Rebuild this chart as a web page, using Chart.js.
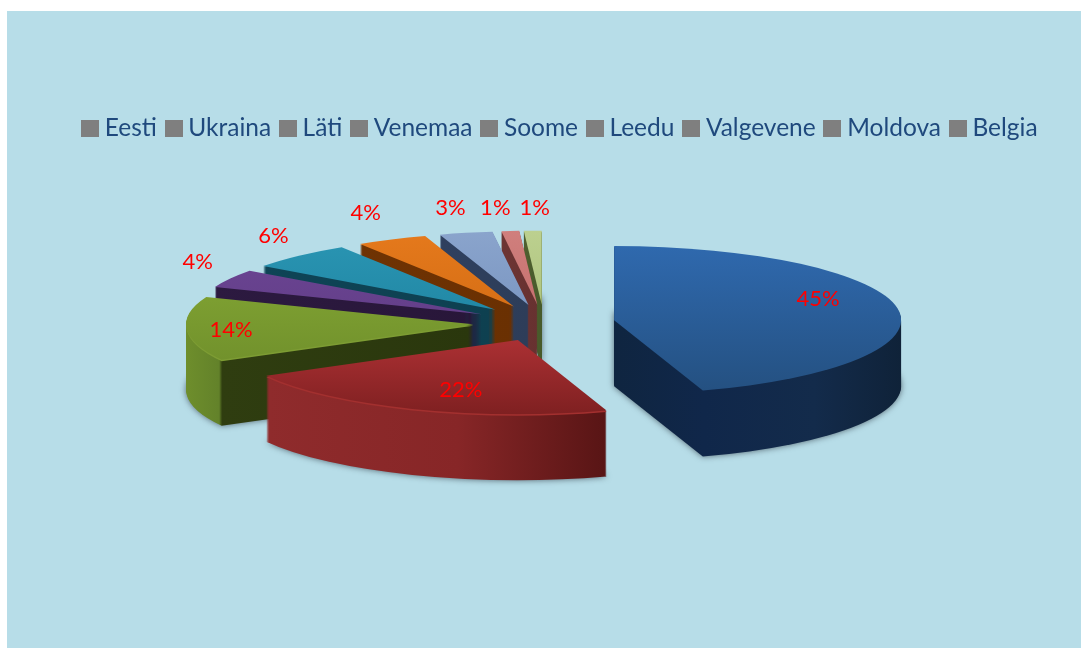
<!DOCTYPE html>
<html>
<head>
<meta charset="utf-8">
<title>Pie</title>
<script src="https://cdn.jsdelivr.net/npm/chart.js@4"></script>
<style>
  html, body { margin: 0; padding: 0; background: #fff; }
  #panel { position: absolute; left: 7px; top: 11px; width: 1074px; height: 637px; background: #b7dde8; }
  #chart { position: absolute; left: 0; top: 0; }
</style>
</head>
<body>
<div id="panel"></div>
<canvas id="chart" width="1081" height="648"></canvas>
<script>
// DATA
const categories = ["Eesti", "Ukraina", "Läti", "Venemaa", "Soome", "Leedu", "Valgevene", "Moldova", "Belgia"];
const shares = [45, 22, 14, 4, 6, 4, 3, 1, 1];
const shareLabels = ["45%", "22%", "14%", "4%", "6%", "4%", "3%", "1%", "1%"];

// STYLES (top face gradient, top to bottom)
const topColors = [
  ["#2f69ae", "#245080"],
  ["#d74045", "#7f2021"],
  ["#85a835", "#6b8a29"],
  ["#6c4594", "#5c3a80"],
  ["#2a95b3", "#1a7d99"],
  ["#e5791c", "#c9660f"],
  ["#8aa4cc", "#6f8cba"],
  ["#d07f7d", "#bd6462"],
  ["#bcd08f", "#a3bb70"]
];
// side faces: [x offset from the slice apex, colour]
const sideStops = [
  [[0, "#0f2540"], [90, "#10274a"], [200, "#132b4b"], [290, "#0f2238"]],
  [[-250, "#8f2b2c"], [-60, "#872627"], [95, "#561414"]],
  [[-290, "#6f8f2c"], [-254, "#63822a"], [-251, "#2f3d10"], [0, "#2a370d"]],
  [[-270, "#2c1a40"], [0, "#281639"]],
  [[-240, "#0e4456"], [0, "#0e4050"]],
  [[-160, "#6f3303"], [0, "#6a3002"]],
  [[-90, "#2f405f"], [0, "#2d3d59"]],
  [[-40, "#6e3534"], [0, "#673130"]],
  [[-20, "#4f6030"], [0, "#475a2a"]]
];
const rimColors = [null, "#a3302f", "#7d9c33", null, null, null, null, null, null];
// back slices first, front slices on top
const drawOrder = [8, 7, 6, 5, 4, 3, 2, 0, 1];
// label centre relative to the slice apex
const labelOffsets = [[204, -21], [-57, 50], [-242, 6], [-284, -52], [-222, -74], [-148, -94], [-78, -97], [-42, -97], [-7, -97]];

const pieX = 544, pieY = 323, squash = 0.258, depth = 66, explode = 71;

function hGrad(ctx, arc, stops) {
  const x0 = stops[0][0], x1 = stops[stops.length - 1][0];
  const g = ctx.createLinearGradient(arc.x + x0, 0, arc.x + x1, 0);
  stops.forEach(s => g.addColorStop((s[0] - x0) / (x1 - x0), s[1]));
  return g;
}

function vGrad(ctx, arc, cols) {
  const g = ctx.createLinearGradient(0, arc.y - 74 / squash, 0, arc.y + 74 / squash);
  g.addColorStop(0, cols[0]);
  g.addColorStop(1, cols[1]);
  return g;
}

// apex of a slice on the page (the pie is exploded here, the element itself stays whole)
function apex(arc) {
  const mid = (arc.startAngle + arc.endAngle) / 2;
  return {
    x: pieX + Math.cos(mid) * explode,
    y: pieY + Math.sin(mid) * explode * squash
  };
}

function paint(ctx, arc, fill, dy) {
  const base = arc.options;
  const a = apex(arc);
  arc.options = Object.create(base, { backgroundColor: { value: fill } });
  ctx.save();
  ctx.translate(a.x, a.y + dy);
  ctx.scale(1, squash);
  ctx.translate(-arc.x, -arc.y);
  arc.draw(ctx);
  ctx.restore();
  arc.options = base;
}

const pie3d = {
  id: "pie3d",
  beforeDatasetsDraw(chart) {
    const ctx = chart.ctx;
    const arcs = chart.getDatasetMeta(0).data;
    drawOrder.forEach(i => {
      const arc = arcs[i];
      const side = hGrad(ctx, arc, sideStops[i]);
      // soft shadow under the deepest layer
      ctx.save();
      ctx.shadowColor = "rgba(40,50,60,0.7)";
      ctx.shadowBlur = 6;
      paint(ctx, arc, side, depth);
      ctx.restore();
      for (let d = depth - 1; d > 0; d--) paint(ctx, arc, side, d);
      if (rimColors[i]) paint(ctx, arc, rimColors[i], 1.5);
      paint(ctx, arc, vGrad(ctx, arc, topColors[i]), 0);
    });
    return false;
  },
  afterDraw(chart) {
    const ctx = chart.ctx;
    const arcs = chart.getDatasetMeta(0).data;
    ctx.save();
    ctx.font = "22px Lato";
    ctx.fillStyle = "#ff0000";
    ctx.textAlign = "center";
    ctx.textBaseline = "middle";
    shareLabels.forEach((t, i) => {
      const a = apex(arcs[i]);
      ctx.fillText(t, a.x + labelOffsets[i][0], a.y + labelOffsets[i][1]);
    });
    ctx.restore();
  }
};

// legend swatch, drawn wider than the legend slot so the text sits close to it
const swatch = document.createElement("canvas");
swatch.width = 18;
swatch.height = 17;
const sctx = swatch.getContext("2d");
sctx.fillStyle = "#7f7f7f";
sctx.fillRect(0, 0, 18, 17);

new Chart(document.getElementById("chart"), {
  type: "pie",
  data: {
    labels: categories,
    datasets: [{
      data: shares,
      backgroundColor: topColors.map(c => c[0]),
      borderWidth: 0
    }]
  },
  options: {
    responsive: false,
    animation: false,
    radius: 287,
    layout: { padding: { left: 44, top: 102, right: 0, bottom: 0 } },
    plugins: {
      tooltip: { enabled: false },
      legend: {
        position: "top",
        labels: {
          usePointStyle: true,
          pointStyle: swatch,
          pointStyleWidth: 5,
          boxHeight: 17,
          padding: 14.2,
          color: "#1f497d",
          font: { family: "Lato", size: 24.5 }
        }
      }
    }
  },
  plugins: [pie3d]
});
</script>
</body>
</html>
